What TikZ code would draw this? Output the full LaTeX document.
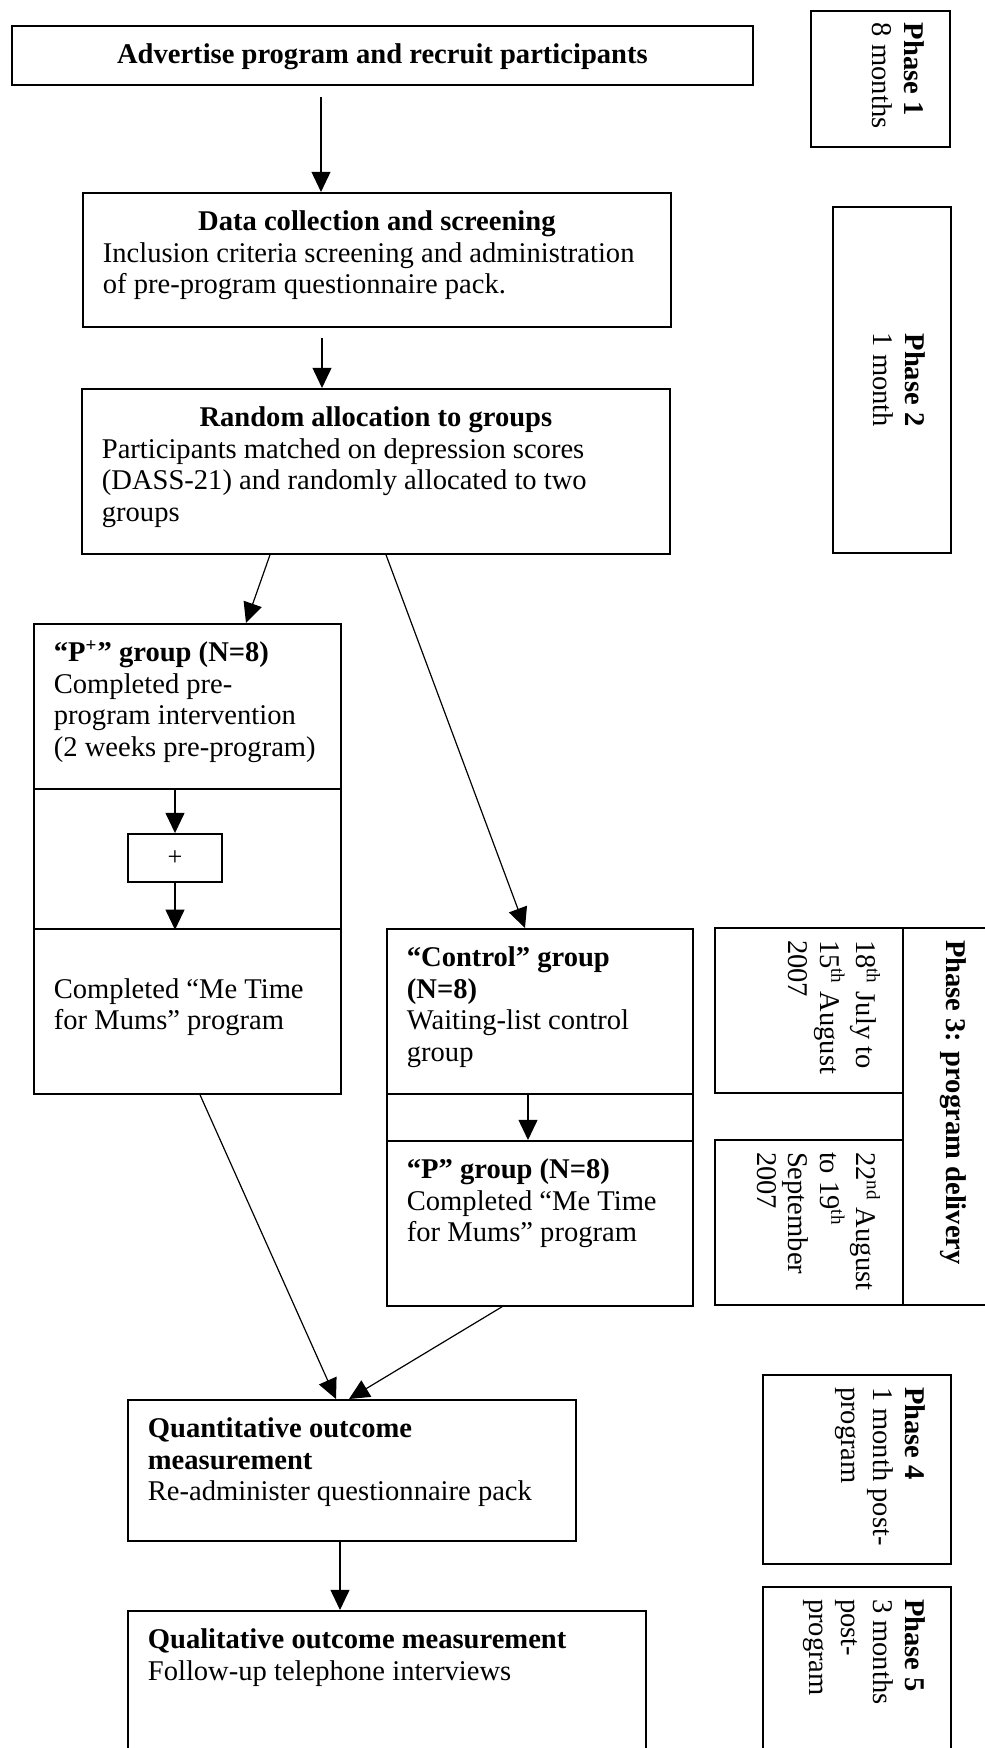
\documentclass[tikz,border=0pt]{standalone}
\usepackage{fontspec}
\setmainfont{Liberation Serif}
\usepackage{tikz}
\usetikzlibrary{positioning, calc, arrows.meta}
\newlength{\px}
\setlength{\px}{0.42pt}
\newcommand{\cell}[3]{\begin{minipage}[t][\dimexpr#2\px-24\px\relax][t]{\dimexpr#1\px-40\px\relax}\rule{0pt}{26\px}#3\end{minipage}}
\newcommand{\sidecell}[3]{\begin{minipage}[t][\dimexpr#2\px-46\px\relax][t]{\dimexpr#1\px-24\px\relax}\strut#3\end{minipage}}
\newcommand{\headline}[1]{\makebox[\linewidth]{\textbf{#1}}}
\tikzset{
	box/.style={draw, line width=0.75pt, inner xsep=8.4pt, inner ysep=5.04pt, anchor=north west, font=\fontsize{12}{13.2}\selectfont},
	side/.style={draw, line width=0.75pt, rotate=-90, inner xsep=5.04pt, inner ysep=9.66pt, font=\fontsize{12}{13.4}\selectfont},
	gap/.style={draw, line width=0.75pt, anchor=north west, inner sep=0pt},
	arrow/.style={line width=0.5pt, -{Triangle[length=8.5pt, width=8pt]}},
}

\begin{document}
\begin{tikzpicture}[x=0.42pt, y=-0.42pt]
			\useasboundingbox (0,0) rectangle (985,1748);
			\clip (0,0) rectangle (985,1748);
			\fill[white] (0,0) rectangle (985,1748);

			\node[box] (adv) at (11,25) {\cell{741}{59}{\headline{Advertise program and recruit participants}}};
			\node[box] (data) at (82,192) {\cell{588}{134}{\headline{Data collection and screening}\\Inclusion criteria screening and administration\\of pre-program questionnaire pack.}};
			\node[box] (rand) at (81,388) {\cell{588}{165}{\headline{Random allocation to groups}\\Participants matched on depression scores\\(DASS-21) and randomly allocated to two\\groups}};

			\node[box] (ppre) at (33,623) {\cell{307}{165}{\textbf{“P\textsuperscript{+}” group (N=8)}\\Completed pre-\\program intervention\\(2 weeks pre-program)}};
			\node[gap, minimum width=128.9pt, minimum height=58.8pt] (pgap) at (33,788) {};
			\node[box] (ppost) at (33,928) {\cell{307}{165}{\\Completed “Me Time\\for Mums” program}};
			\node[draw, line width=0.75pt, minimum width=39.5pt, minimum height=20.2pt, inner sep=0pt, font=\fontsize{11}{13}\selectfont] (plus) at (175,858) {+};

			\node[box] (ctrl) at (386,928) {\cell{306}{165}{\textbf{“Control” group\\(N=8)}\\Waiting-list control\\group}};
			\node[gap, minimum width=128.5pt, minimum height=19.7pt] (cgap) at (386,1093) {};
			\node[box] (pgrp) at (386,1140) {\cell{306}{165}{\textbf{“P” group (N=8)}\\Completed “Me Time\\for Mums” program}};

			\node[box] (quant) at (127,1399) {\cell{448}{141}{\textbf{Quantitative outcome\\measurement}\\Re-administer questionnaire pack}};
			\node[box] (qual) at (127,1610) {\cell{518}{170}{\textbf{Qualitative outcome measurement}\\Follow-up telephone interviews}};

			\node[side] (ph1) at (880.5,79) {\sidecell{136}{139}{\textbf{Phase 1}\\8 months}};
			\node[side] (ph2) at (892,380) {\sidecell{346}{118}{\centering\textbf{Phase 2}\\1 month}};
			\node[side] (d1) at (809,1010.5) {\sidecell{165}{188}{18\textsuperscript{th} July to\\15\textsuperscript{th} August\\2007}};
			\node[side] (d2) at (809,1222.5) {\sidecell{165}{188}{22\textsuperscript{nd} August\\to 19\textsuperscript{th}\\September\\2007}};
			\node[side] (ph3) at (947.5,1116.5) {\sidecell{377}{89}{\textbf{Phase 3: program delivery}}};
			\node[side] (ph4) at (857,1469.5) {\sidecell{189}{188}{\textbf{Phase 4}\\1 month post-\\program}};
			\node[side] (ph5) at (857,1683.5) {\sidecell{193}{188}{\textbf{Phase 5}\\3 months\\post-\\program}};

			\draw[arrow] ($(adv.south west)+(310,11)$) -- ($(data.north west)+(239,0)$);
			\draw[arrow] ($(data.south west)+(240,10)$) -- ($(rand.north west)+(241,0)$);
			\draw[arrow] ($(rand.south west)+(189,0)$) -- ($(ppre.north west)+(213,0)$);
			\draw[arrow] ($(rand.south west)+(305,0)$) -- ($(ctrl.north west)+(139,0)$);
			\draw[arrow] (pgap.north -| plus) -- (plus.north);
			\draw[arrow] (plus.south) -- (pgap.south -| plus);
			\draw[arrow] ($(ctrl.south west)+(142,0)$) -- ($(pgrp.north west)+(142,0)$);
			\draw[arrow] ($(ppost.south west)+(167,0)$) -- ($(quant.north west)+(209,0)$);
			\draw[arrow] ($(pgrp.south west)+(116,0)$) -- ($(quant.north west)+(222,0)$);
			\draw[arrow] ($(quant.south west)+(213,0)$) -- ($(qual.north west)+(213,0)$);
		\end{tikzpicture}
\end{document}
